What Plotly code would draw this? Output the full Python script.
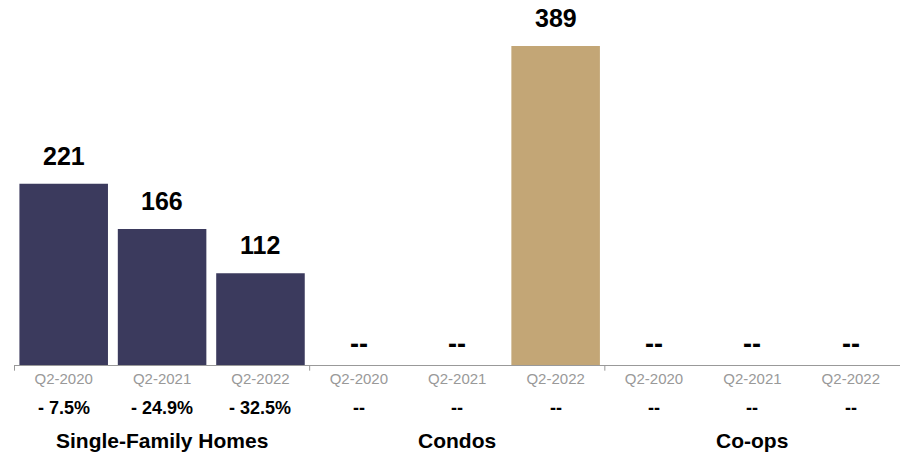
import plotly.graph_objects as go

groups = ["Single-Family Homes", "Condos", "Co-ops"]
quarters = ["Q2-2020", "Q2-2021", "Q2-2022"]
values = [221, 166, 112, None, None, 389, None, None, None]
changes = ["- 7.5%", "- 24.9%", "- 32.5%", "--", "--", "--", "--", "--", "--"]
navy = "#3B3A5D"
gold = "#C3A676"

FONT = "Arial, Liberation Sans, Helvetica, sans-serif"

cats = [f"{g}|{q}" for g in groups for q in quarters]
colors = [gold if groups[i // 3] == "Condos" else navy for i in range(len(cats))]

fig = go.Figure()
fig.add_trace(go.Bar(
    x=cats, y=values, marker=dict(color=colors, line=dict(width=0)),
    hoverinfo="skip", showlegend=False,
))

annotations = []
for c, v, ch in zip(cats, values, changes):
    annotations.append(dict(
        x=c, y=v if v else 0, xref="x", yref="y",
        text=str(v) if v else "--", showarrow=False,
        yanchor="bottom", yshift=12 if v else 4,
        font=dict(family=FONT, size=25 if v else 27, color="#000000", weight="bold"),
    ))
    annotations.append(dict(
        x=c, y=0, xref="x", yref="paper", text=ch, showarrow=False,
        yanchor="middle", yshift=-43,
        font=dict(family=FONT, size=18, color="#000000", weight="bold"),
    ))
for gi, g in enumerate(groups):
    annotations.append(dict(
        x=cats[gi * 3 + 1], y=0, xref="x", yref="paper", text=g, showarrow=False,
        yanchor="middle", yshift=-75,
        font=dict(family=FONT, size=21, color="#000000", weight="bold"),
    ))

shapes = []
for gi in range(len(groups)):
    b = gi * len(quarters) - 0.5
    shapes.append(dict(type="line", xref="x", yref="paper", x0=b, x1=b,
                       y0=0, y1=-0.016, line=dict(color="#999999", width=1)))

fig.update_layout(
    width=900, height=454,
    margin=dict(l=14, r=0, t=10, b=89),
    plot_bgcolor="white", paper_bgcolor="white",
    bargap=0.1,
    annotations=annotations, shapes=shapes,
    xaxis=dict(
        type="category", tickvals=cats, ticktext=quarters * len(groups),
        showline=True, linecolor="#999999", linewidth=1,
        showgrid=False, ticks="", zeroline=False,
        tickfont=dict(family=FONT, size=15, color="#999999"),
    ),
    yaxis=dict(range=[0, 433], visible=False, showgrid=False, zeroline=False),
)

fig.write_html("out.html")
